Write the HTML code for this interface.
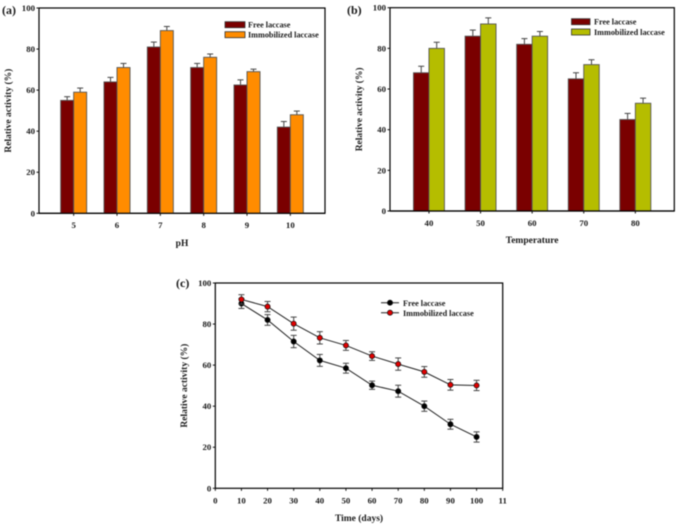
<!DOCTYPE html>
<html>
<head>
<meta charset="utf-8">
<style>
html,body{margin:0;padding:0;background:#fff;width:678px;height:525px;overflow:hidden}
svg{display:block;filter:blur(0.4px)}
text{font-family:"Liberation Serif",serif;font-weight:bold;fill:#1a1a1a}
</style>
</head>
<body>
<svg id="fig" width="678" height="525" viewBox="0 0 678 525" xmlns="http://www.w3.org/2000/svg"></svg>
<script>
var yTicks = [0, 20, 40, 60, 80, 100];

var phCategories = ['5', '6', '7', '8', '9', '10'];
var phFree = [55, 64, 81, 71, 62.5, 42];
var phFreeErr = [1.8, 2.2, 2.4, 2, 2.5, 2.7];
var phImmobilized = [59, 71, 89, 76, 69, 48];
var phImmobilizedErr = [2, 2, 2, 1.6, 1.2, 1.8];

var tempCategories = ['40', '50', '60', '70', '80'];
var tempFree = [68, 86, 82, 65, 45];
var tempFreeErr = [3.2, 3, 2.8, 3, 3];
var tempImmobilized = [80, 92, 86, 72, 53];
var tempImmobilizedErr = [3, 3, 2.3, 2.4, 2.5];

var days = [10, 20, 30, 40, 50, 60, 70, 80, 90, 100];
var timeFree = [90, 82, 71.5, 62.3, 58.5, 50.2, 47.3, 40, 31.2, 25];
var timeFreeErr = [2.4, 2.6, 3, 2.9, 2.4, 2, 2.9, 2.5, 2.4, 2.5];
var timeImmobilized = [92, 88.5, 80.2, 73.3, 69.6, 64.4, 60.5, 56.7, 50.4, 50.1];
var timeImmobilizedErr = [2.3, 2.5, 3.2, 3, 2.4, 2.1, 3, 2.6, 2.6, 2.5];
var timeTickValues = [0, 10, 20, 30, 40, 50, 60, 70, 80, 90, 100, 110];
var timeTickLabels = ['0', '10', '20', '30', '40', '50', '60', '70', '80', '90', '100', '11'];

var NS = 'http://www.w3.org/2000/svg';
var fig = document.getElementById('fig');

function mk(parent, tag, attrs, text) {
  var el = document.createElementNS(NS, tag);
  for (var k in attrs) el.setAttribute(k, attrs[k]);
  if (text !== undefined) el.textContent = text;
  parent.appendChild(el);
  return el;
}
function line(p, x1, y1, x2, y2, color, w) {
  return mk(p, 'line', {x1: x1, y1: y1, x2: x2, y2: y2, stroke: color || '#111', 'stroke-width': w || 1});
}
function txt(p, x, y, s, size, anchor, rot) {
  var a = {x: x, y: y, 'font-size': size, 'text-anchor': anchor || 'middle'};
  if (rot) a.transform = 'rotate(-90 ' + x + ' ' + y + ')';
  return mk(p, 'text', a, s);
}
function group(name) {
  var g = mk(fig, 'g', {});
  
  
  return g;
}

function drawFrame(name, box, yTitle, yTitleX, xTitle, xTitleY, tag, tagX, tagY) {
  var g = group(name);
  var yScale = function (v) { return box.bottom - (v / 100) * (box.bottom - box.top); };
  mk(g, 'rect', {x: box.left, y: box.top, width: box.right - box.left, height: box.bottom - box.top, fill: 'none', stroke: '#000', 'stroke-width': 1.2});
  yTicks.forEach(function (t) {
    line(g, box.left - 2.5, yScale(t), box.left, yScale(t));
    txt(g, box.left - 4, yScale(t) + 3, String(t), 8.8, 'end');
  });
  var yt = txt(g, yTitleX, (box.top + box.bottom) / 2, yTitle, 9.5, 'middle', true);
  
  
  var xt = txt(g, (box.left + box.right) / 2 + box.titleShift, xTitleY, xTitle, 9.5);
  
  
  var pt = txt(g, tagX, tagY, tag, 12, 'start');
  
  
  return {g: g, y: yScale};
}

function drawBars(name, box, spec) {
  var f = drawFrame(name, box, 'Relative activity (%)', spec.yTitleX, spec.xTitle, spec.xTitleY, spec.tag, spec.tagX, spec.tagY);
  var n = spec.categories.length;
  var step = (box.right - box.left) / (n - 1 + 2 * spec.edgePad);
  var xScale = function (i) { return box.left + step * (spec.edgePad + i); };
  var bw = step * 0.3;
  function series(vals, errs, color, dx, label) {
    vals.forEach(function (v, i) {
      var x = xScale(i) + dx;
      var y = f.y(v);
      var top = f.y(v + errs[i]);
      line(f.g, x + bw / 2, y, x + bw / 2, top, '#444');
      line(f.g, x + bw / 2 - 3, top, x + bw / 2 + 3, top, '#444');
      var bar = mk(f.g, 'rect', {x: x, y: y, width: bw, height: box.bottom - y, fill: color, stroke: '#555', 'stroke-width': 0.9});
      
      
    });
  }
  series(spec.free, spec.freeErr, '#7a0000', -bw, 'free');
  series(spec.imm, spec.immErr, spec.immColor, 0, 'immobilized');
  line(f.g, box.left, box.bottom, box.right, box.bottom, '#000', 1.2);
  spec.categories.forEach(function (c, i) {
    line(f.g, xScale(i), box.bottom, xScale(i), box.bottom + 2.5);
    txt(f.g, xScale(i), box.bottom + spec.tickLabelGap, c, 8.8);
  });
  var L = spec.legend;
  var lg = mk(f.g, 'g', {});
  
  
  mk(lg, 'rect', {x: L.x, y: L.y1, width: L.w, height: 6, fill: '#7a0000', stroke: '#333', 'stroke-width': 0.8});
  mk(lg, 'rect', {x: L.x, y: L.y2, width: L.w, height: 6, fill: spec.immColor, stroke: '#333', 'stroke-width': 0.8});
  txt(lg, L.tx, L.y1 + 6, 'Free laccase', 8.2, 'start');
  txt(lg, L.tx, L.y2 + 6, 'Immobilized laccase', 8.2, 'start');
}

drawBars('chart-ph', {left: 39, right: 325, top: 8, bottom: 213.3, titleShift: 0}, {
  categories: phCategories, free: phFree, freeErr: phFreeErr, imm: phImmobilized, immErr: phImmobilizedErr,
  immColor: '#ff8c00', yTitleX: 11, xTitle: 'pH', xTitleY: 246, tag: '(a)', tagX: 2, tagY: 14,
  edgePad: 0.8, tickLabelGap: 14.7,
  legend: {x: 225, w: 20, y1: 21.7, y2: 31.7, tx: 248}
});

drawBars('chart-temperature', {left: 390, right: 674.3, top: 7.7, bottom: 211, titleShift: 0}, {
  categories: tempCategories, free: tempFree, freeErr: tempFreeErr, imm: tempImmobilized, immErr: tempImmobilizedErr,
  immColor: '#b5bd00', yTitleX: 362, xTitle: 'Temperature', xTitleY: 243, tag: '(b)', tagX: 347, tagY: 14,
  edgePad: 0.755, tickLabelGap: 15,
  legend: {x: 571.5, w: 18.5, y1: 18.7, y2: 29, tx: 594}
});

(function () {
  var box = {left: 215.3, right: 502.7, top: 283, bottom: 488.3, titleShift: 0};
  var f = drawFrame('chart-time', box, 'Relative activity (%)', 187, 'Time (days)', 521, '(c)', 176, 287);
  var xScale = function (v) { return box.left + (v / 110) * (box.right - box.left); };
  timeTickValues.forEach(function (t, i) {
    line(f.g, xScale(t), box.bottom, xScale(t), box.bottom + 2.5);
    txt(f.g, xScale(t), box.bottom + 15, timeTickLabels[i], 8.8);
  });
  function series(vals, errs, color, label) {
    var pts = vals.map(function (v, i) { return xScale(days[i]) + ',' + f.y(v); }).join(' ');
    var pl = mk(f.g, 'polyline', {points: pts, fill: 'none', stroke: '#222', 'stroke-width': 1});
    
    
    vals.forEach(function (v, i) {
      var x = xScale(days[i]);
      var hi = f.y(v + errs[i]);
      var lo = f.y(v - errs[i]);
      line(f.g, x, hi, x, lo, '#444');
      line(f.g, x - 3, hi, x + 3, hi, '#444');
      line(f.g, x - 3, lo, x + 3, lo, '#444');
    });
    vals.forEach(function (v, i) {
      var c = mk(f.g, 'circle', {cx: xScale(days[i]), cy: f.y(v), r: 2.6, fill: color, stroke: '#111', 'stroke-width': 0.7});
      
      
    });
  }
  series(timeFree, timeFreeErr, '#000', 'free');
  series(timeImmobilized, timeImmobilizedErr, '#e00000', 'immobilized');
  var lg = mk(f.g, 'g', {});
  
  
  line(lg, 381, 302.7, 399, 302.7, '#222');
  mk(lg, 'circle', {cx: 390, cy: 302.7, r: 2.6, fill: '#000', stroke: '#111', 'stroke-width': 0.7});
  txt(lg, 403, 306, 'Free laccase', 8.2, 'start');
  line(lg, 381, 312.7, 399, 312.7, '#222');
  mk(lg, 'circle', {cx: 390, cy: 312.7, r: 2.6, fill: '#e00000', stroke: '#111', 'stroke-width': 0.7});
  txt(lg, 403, 316, 'Immobilized laccase', 8.2, 'start');
})();
</script>
</body>
</html>
